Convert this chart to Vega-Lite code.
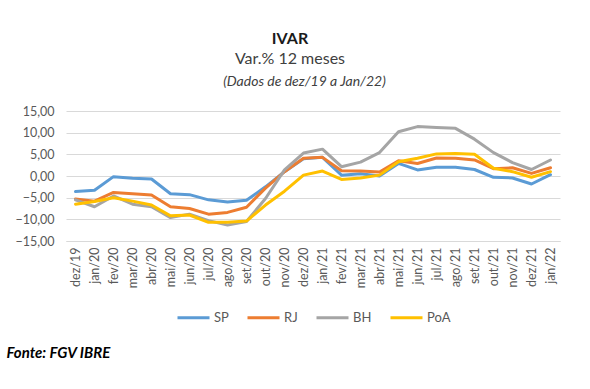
{
  "$schema": "https://vega.github.io/schema/vega-lite/v6.json",
  "autosize": {"type": "none"},
  "width": 494,
  "height": 130,
  "padding": {"left": 66, "top": 111, "right": 30, "bottom": 148},
  "background": "white",
  "config": {
    "font": "Lato",
    "view": {"stroke": null},
    "axis": {"labelFont": "Lato", "titleFont": "Lato"},
    "axisY": {"labelOverlap": false, "labelFlush": false},
    "legend": {"labelFont": "Lato"}
  },
  "title": {
    "text": "IVAR",
    "subtitle": "Var.% 12 meses",
    "anchor": "middle",
    "dx": -23,
    "offset": 7,
    "fontSize": 16,
    "fontWeight": "bold",
    "color": "#1a1a1a",
    "subtitleFontSize": 16,
    "subtitleColor": "#404040",
    "subtitlePadding": 4,
    "font": "Lato",
    "subtitleFont": "Lato"
  },
  "data": {
    "values": [
      {"m": "dez/19", "serie": "SP", "v": -3.6}, {"m": "jan/20", "serie": "SP", "v": -3.3}, {"m": "fev/20", "serie": "SP", "v": -0.15}, {"m": "mar/20", "serie": "SP", "v": -0.5}, {"m": "abr/20", "serie": "SP", "v": -0.7}, {"m": "mai/20", "serie": "SP", "v": -4.1}, {"m": "jun/20", "serie": "SP", "v": -4.3}, {"m": "jul/20", "serie": "SP", "v": -5.5}, {"m": "ago/20", "serie": "SP", "v": -6.0}, {"m": "set/20", "serie": "SP", "v": -5.6}, {"m": "out/20", "serie": "SP", "v": -2.5}, {"m": "nov/20", "serie": "SP", "v": 1.0}, {"m": "dez/20", "serie": "SP", "v": 4.0}, {"m": "jan/21", "serie": "SP", "v": 4.3}, {"m": "fev/21", "serie": "SP", "v": 0.2}, {"m": "mar/21", "serie": "SP", "v": 0.5}, {"m": "abr/21", "serie": "SP", "v": 0.0}, {"m": "mai/21", "serie": "SP", "v": 2.9}, {"m": "jun/21", "serie": "SP", "v": 1.4}, {"m": "jul/21", "serie": "SP", "v": 2.0}, {"m": "ago/21", "serie": "SP", "v": 2.0}, {"m": "set/21", "serie": "SP", "v": 1.5}, {"m": "out/21", "serie": "SP", "v": -0.3}, {"m": "nov/21", "serie": "SP", "v": -0.45}, {"m": "dez/21", "serie": "SP", "v": -1.85}, {"m": "jan/22", "serie": "SP", "v": 0.3},
      {"m": "dez/19", "serie": "RJ", "v": -5.3}, {"m": "jan/20", "serie": "RJ", "v": -5.8}, {"m": "fev/20", "serie": "RJ", "v": -3.8}, {"m": "mar/20", "serie": "RJ", "v": -4.1}, {"m": "abr/20", "serie": "RJ", "v": -4.4}, {"m": "mai/20", "serie": "RJ", "v": -7.1}, {"m": "jun/20", "serie": "RJ", "v": -7.5}, {"m": "jul/20", "serie": "RJ", "v": -8.8}, {"m": "ago/20", "serie": "RJ", "v": -8.4}, {"m": "set/20", "serie": "RJ", "v": -7.2}, {"m": "out/20", "serie": "RJ", "v": -2.8}, {"m": "nov/20", "serie": "RJ", "v": 1.0}, {"m": "dez/20", "serie": "RJ", "v": 4.1}, {"m": "jan/21", "serie": "RJ", "v": 4.3}, {"m": "fev/21", "serie": "RJ", "v": 1.2}, {"m": "mar/21", "serie": "RJ", "v": 1.15}, {"m": "abr/21", "serie": "RJ", "v": 0.9}, {"m": "mai/21", "serie": "RJ", "v": 3.5}, {"m": "jun/21", "serie": "RJ", "v": 2.9}, {"m": "jul/21", "serie": "RJ", "v": 4.15}, {"m": "ago/21", "serie": "RJ", "v": 4.1}, {"m": "set/21", "serie": "RJ", "v": 3.7}, {"m": "out/21", "serie": "RJ", "v": 1.7}, {"m": "nov/21", "serie": "RJ", "v": 1.9}, {"m": "dez/21", "serie": "RJ", "v": 0.6}, {"m": "jan/22", "serie": "RJ", "v": 1.9},
      {"m": "dez/19", "serie": "BH", "v": -5.5}, {"m": "jan/20", "serie": "BH", "v": -7.1}, {"m": "fev/20", "serie": "BH", "v": -4.6}, {"m": "mar/20", "serie": "BH", "v": -6.5}, {"m": "abr/20", "serie": "BH", "v": -7.1}, {"m": "mai/20", "serie": "BH", "v": -9.6}, {"m": "jun/20", "serie": "BH", "v": -8.8}, {"m": "jul/20", "serie": "BH", "v": -10.3}, {"m": "ago/20", "serie": "BH", "v": -11.3}, {"m": "set/20", "serie": "BH", "v": -10.5}, {"m": "out/20", "serie": "BH", "v": -5.2}, {"m": "nov/20", "serie": "BH", "v": 1.4}, {"m": "dez/20", "serie": "BH", "v": 5.3}, {"m": "jan/21", "serie": "BH", "v": 6.2}, {"m": "fev/21", "serie": "BH", "v": 2.15}, {"m": "mar/21", "serie": "BH", "v": 3.2}, {"m": "abr/21", "serie": "BH", "v": 5.4}, {"m": "mai/21", "serie": "BH", "v": 10.2}, {"m": "jun/21", "serie": "BH", "v": 11.4}, {"m": "jul/21", "serie": "BH", "v": 11.2}, {"m": "ago/21", "serie": "BH", "v": 11.0}, {"m": "set/21", "serie": "BH", "v": 8.5}, {"m": "out/21", "serie": "BH", "v": 5.4}, {"m": "nov/21", "serie": "BH", "v": 3.1}, {"m": "dez/21", "serie": "BH", "v": 1.5}, {"m": "jan/22", "serie": "BH", "v": 3.7},
      {"m": "dez/19", "serie": "PoA", "v": -6.5}, {"m": "jan/20", "serie": "PoA", "v": -5.9}, {"m": "fev/20", "serie": "PoA", "v": -5.0}, {"m": "mar/20", "serie": "PoA", "v": -5.8}, {"m": "abr/20", "serie": "PoA", "v": -6.7}, {"m": "mai/20", "serie": "PoA", "v": -9.2}, {"m": "jun/20", "serie": "PoA", "v": -9.0}, {"m": "jul/20", "serie": "PoA", "v": -10.7}, {"m": "ago/20", "serie": "PoA", "v": -10.7}, {"m": "set/20", "serie": "PoA", "v": -10.4}, {"m": "out/20", "serie": "PoA", "v": -6.7}, {"m": "nov/20", "serie": "PoA", "v": -3.5}, {"m": "dez/20", "serie": "PoA", "v": 0.2}, {"m": "jan/21", "serie": "PoA", "v": 1.15}, {"m": "fev/21", "serie": "PoA", "v": -0.8}, {"m": "mar/21", "serie": "PoA", "v": -0.45}, {"m": "abr/21", "serie": "PoA", "v": 0.2}, {"m": "mai/21", "serie": "PoA", "v": 3.3}, {"m": "jun/21", "serie": "PoA", "v": 4.1}, {"m": "jul/21", "serie": "PoA", "v": 5.1}, {"m": "ago/21", "serie": "PoA", "v": 5.2}, {"m": "set/21", "serie": "PoA", "v": 5.0}, {"m": "out/21", "serie": "PoA", "v": 1.8}, {"m": "nov/21", "serie": "PoA", "v": 1.0}, {"m": "dez/21", "serie": "PoA", "v": -0.3}, {"m": "jan/22", "serie": "PoA", "v": 1.0}
    ]
  },
  "encoding": {
    "y": {
      "field": "v", "type": "quantitative",
      "scale": {"domain": [-15, 15], "nice": false},
      "axis": {
        "values": [-15, -10, -5, 0, 5, 10, 15],
        "labelExpr": "replace(format(datum.value, '.2f'), '.', ',')",
        "labelFontSize": 12.5,
        "labelColor": "#595959",
        "labelPadding": 12,
        "labelOverlap": false,
        "labelFlush": false,
        "ticks": false,
        "domain": false,
        "grid": true,
        "gridColor": "#d9d9d9",
        "gridWidth": 1,
        "title": null
      }
    }
  },
  "layer": [
    {
      "mark": {"type": "line", "strokeWidth": 3, "strokeCap": "round", "strokeJoin": "round"},
      "encoding": {
        "x": {
          "field": "m", "type": "ordinal",
          "sort": ["dez/19","jan/20","fev/20","mar/20","abr/20","mai/20","jun/20","jul/20","ago/20","set/20","out/20","nov/20","dez/20","jan/21","fev/21","mar/21","abr/21","mai/21","jun/21","jul/21","ago/21","set/21","out/21","nov/21","dez/21","jan/22"],
          "scale": {"type": "point", "padding": 0.5},
          "axis": {
            "orient": "bottom",
            "labelAngle": -90,
            "labelFontSize": 12.5,
            "labelColor": "#595959",
            "labelPadding": 6,
            "labelOverlap": false,
            "ticks": false,
            "domain": true,
            "domainColor": "#d9d9d9",
            "grid": false,
            "title": "Fonte: FGV IBRE",
            "titleX": -60,
            "titleY": 116,
            "titleAlign": "left",
            "titleAnchor": "start",
            "titleBaseline": "alphabetic",
            "titleFontSize": 15,
            "titleFontStyle": "italic",
            "titleFontWeight": "bold",
            "titleColor": "#000000"
          }
        },
        "color": {
          "field": "serie", "type": "nominal",
          "scale": {"domain": ["SP", "RJ", "BH", "PoA"], "range": ["#5B9BD5", "#ED7D31", "#A5A5A5", "#FFC000"]},
          "legend": {
            "orient": "none",
            "legendX": 110,
            "legendY": 189,
            "direction": "horizontal",
            "title": null,
            "symbolType": "stroke",
            "symbolSize": 1024,
            "symbolStrokeWidth": 3,
            "labelFontSize": 13,
            "labelColor": "#595959",
            "labelOffset": 3,
            "columnPadding": 12,
            "padding": 0
          }
        }
      }
    },
    {
      "mark": {"type": "line", "opacity": 0},
      "encoding": {
        "x": {
          "field": "m", "type": "ordinal",
          "sort": ["dez/19","jan/20","fev/20","mar/20","abr/20","mai/20","jun/20","jul/20","ago/20","set/20","out/20","nov/20","dez/20","jan/21","fev/21","mar/21","abr/21","mai/21","jun/21","jul/21","ago/21","set/21","out/21","nov/21","dez/21","jan/22"],
          "axis": {
            "orient": "top",
            "labels": false,
            "ticks": false,
            "domain": false,
            "grid": false,
            "title": "(Dados de dez/19 a Jan/22)",
            "titleX": 238,
            "titleY": -26,
            "titleAlign": "center",
            "titleBaseline": "alphabetic",
            "titleFontSize": 14,
            "titleFontStyle": "italic",
            "titleFontWeight": "normal",
            "titleColor": "#404040"
          }
        },
        "detail": {"field": "serie"}
      }
    }
  ],
  "resolve": {"axis": {"x": "independent"}}
}
